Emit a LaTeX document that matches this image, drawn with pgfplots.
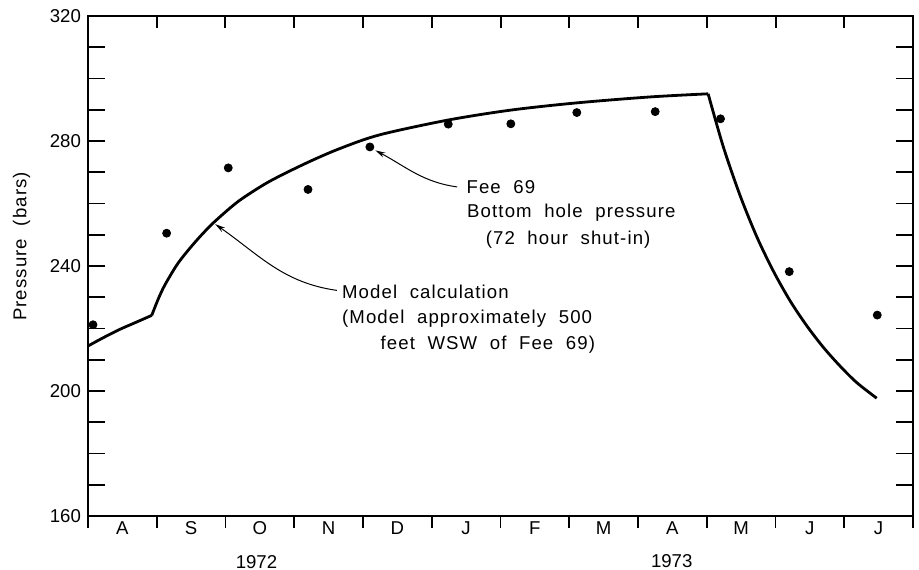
\documentclass[border=0pt]{standalone}
\usepackage{fontspec}
\setmainfont{Liberation Sans}
\newfontfamily\spaced{Liberation Sans}[LetterSpace=6,WordSpace=2]
\usepackage{pgfplots}
\pgfplotsset{compat=1.18}
\usetikzlibrary{arrows.meta,calc}

\begin{document}
\begin{tikzpicture}
\begin{axis}[
    name=main,
    scale only axis,
    width=412.5pt, height=250pt,
    xmin=0, xmax=12,
    ymin=160, ymax=320,
    clip=false,
    axis line style={line width=0.75pt},
    every tick/.style={line width=0.8pt, black},
    tick label style={font=\fontsize{9.3}{11}\selectfont},
    /pgf/number format/assume math mode=true,
    xtick={0,1,...,12},
    xticklabels={A,S,O,N,D,J,F,M,A,M,J,J},
    x tick label as interval,
    xticklabel style={yshift=5.2pt},
    xtick pos=bottom,
    xtick align=outside,
    major x tick style={/pgfplots/major tick length=6pt},
    ytick={160,200,...,320},
    minor ytick={170,180,...,310},
    ytick pos=both,
    ytick align=inside,
    major y tick style={/pgfplots/major tick length=8.5pt},
    minor tick length=8.5pt,
    ]
    % model curve, three pieces with sharp corners between them
    \addplot [line width=1.4pt, smooth, tension=0.4] coordinates {
        (0,214.4) (0.2,216.8) (0.45,219.6) (0.7,222.0) (0.927,224.2)
    };
    \addplot [line width=1.4pt, smooth, tension=0.5] coordinates {
        (0.927,224.2) (1.023,229.5) (1.12,234.0) (1.313,241.0) (1.556,247.6)
        (1.799,253.3) (2.09,259.0) (2.284,262.2) (2.65,267.2) (3.181,273.0)
        (3.665,277.6) (4.247,282.0) (5.236,286.7) (6.153,289.9) (7.108,292.2)
        (8.175,294.1) (9.02,295.1)
    };
    \addplot [line width=1.4pt, smooth, tension=0.5] coordinates {
        (9.02,295.1) (9.24,278.2) (9.484,262.6) (9.727,249.4) (9.968,238.4)
        (10.211,228.9) (10.454,220.9) (10.695,214.0) (10.938,208.0)
        (11.181,202.7) (11.472,197.7)
    };
    % Fee 69 measured pressures
    \addplot [only marks, mark=*, mark size=2pt, black] coordinates {
        (0.073,221.2) (1.144,250.5) (2.04,271.4) (3.2,264.5) (4.1,278.1)
        (5.24,285.4) (6.15,285.5) (7.11,289.1) (8.25,289.4) (9.2,287.1)
        (10.2,238.2) (11.48,224.3)
    };
    % annotations
    \begin{scope}[every node/.style={anchor=west, inner sep=0pt,
            font=\spaced\fontsize{9.3}{11}\selectfont}]
        \node at (axis cs:5.50,265.2) {Fee 69};
        \node at (axis cs:5.51,257.0) {Bottom hole pressure};
        \node at (axis cs:5.78,248.3) {(72 hour shut-in)};
        \node at (axis cs:3.69,231.8) {Model calculation};
        \node at (axis cs:3.69,223.3) {(Model approximately 500};
        \node at (axis cs:4.25,214.7) {feet WSW of Fee 69)};
    \end{scope}
    \draw[line width=0.5pt, -{Stealth[length=5pt,width=2.6pt]}]
        (axis cs:5.37,265.3) to[out=172,in=-28] (axis cs:4.18,277.0);
    \draw[line width=0.5pt, -{Stealth[length=5pt,width=2.6pt]}]
        (axis cs:3.62,232.2) to[out=172,in=-35] (axis cs:1.85,253.4);
    % axis and year labels
    \node[rotate=90, font=\spaced\fontsize{9.3}{11}\selectfont]
        at ([xshift=-33.2pt]rel axis cs:0,0.539) {Pressure (bars)};
    \node[font=\fontsize{9.3}{11}\selectfont] at ([yshift=-22.8pt]axis cs:2.45,160) {1972};
    \node[font=\fontsize{9.3}{11}\selectfont] at ([yshift=-22.6pt]axis cs:8.49,160) {1973};
\end{axis}
% inward month ticks along the top edge
\foreach \m in {1,...,11}
    \draw[line width=1pt] ($(main.north west)!\m/12!(main.north east)$) -- ++(0,-6pt);
\pgfresetboundingbox
\useasboundingbox (-44pt,-26.5pt) rectangle (415.5pt,258pt);
\end{tikzpicture}
\end{document}
